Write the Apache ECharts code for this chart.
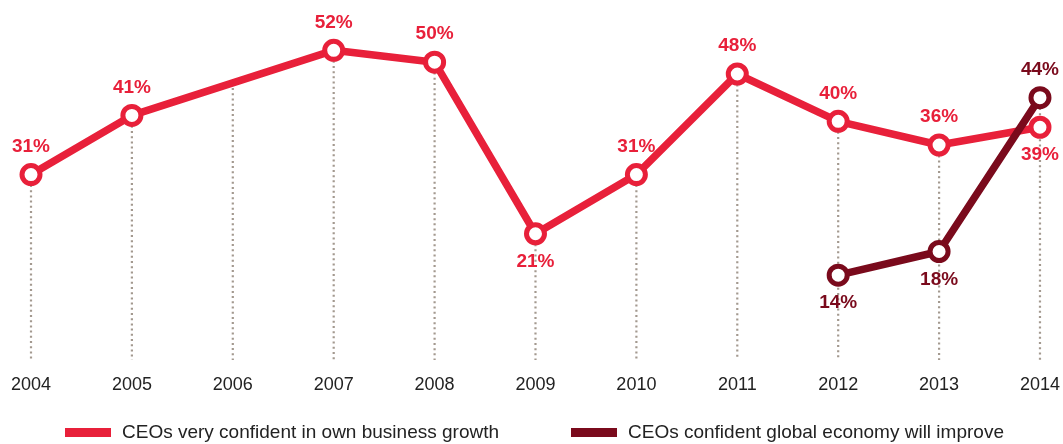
<!DOCTYPE html>
<html><head><meta charset="utf-8">
<script src="https://cdn.jsdelivr.net/npm/echarts@6/dist/echarts.min.js"></script>
<style>html,body{margin:0;padding:0;background:#fff}#c{width:1063px;height:444px}</style>
</head><body><div id="c"></div>
<script>
var years = ['2004','2005','2006','2007','2008','2009','2010','2011','2012','2013','2014'];
var ownGrowth = [31,41,null,52,50,21,31,48,40,36,39];
var globalEconomy = [null,null,null,null,null,null,null,null,14,18,44];
var ownLabelPos = ['top','top','top','top','top','bottom','top','top','top','top','bottom'];
var globalLabelPos = ['top','top','top','top','top','top','top','top','bottom','bottom','top'];
var seriesNames = ['CEOs very confident in own business growth','CEOs confident global economy will improve'];

var RED = '#e8203a', DARK = '#7a0a1c';
var FONT = '"Liberation Sans", Arial, Helvetica, sans-serif';

// tops of the dotted drop lines: highest mark in each year, or the line itself where no mark
var tops = years.map(function(y, i){
  var a = ownGrowth[i], b = globalEconomy[i];
  if (a == null && b == null) {
    var l = i-1; while (l>=0 && ownGrowth[l]==null) l--;
    var r = i+1; while (r<ownGrowth.length && ownGrowth[r]==null) r++;
    return ownGrowth[l] + (ownGrowth[r]-ownGrowth[l])*(i-l)/(r-l);
  }
  return Math.max(a==null?-1:a, b==null?-1:b);
});

function mkData(vals, pos){
  return vals.map(function(v,i){
    return {value: v, label: {position: pos[i]}};
  });
}

var legendText = {fontFamily: FONT, fontSize: 19, color: '#222', padding:[0,0,0,6]};
var chart = echarts.init(document.getElementById('c'));
chart.setOption({
  animation: false,
  grid: {left: 31, right: 23, top: 3, bottom: 86, containLabel: false},
  legend: [
    {data:[{name: seriesNames[0], itemStyle:{color: RED, borderWidth: 0}}], left: 65, top: 423, padding: 0, icon: 'rect',
     itemWidth: 46, itemHeight: 9, textStyle: legendText},
    {data:[{name: seriesNames[1], itemStyle:{color: DARK, borderWidth: 0}}], left: 571, top: 423, padding: 0, icon: 'rect',
     itemWidth: 46, itemHeight: 9, textStyle: legendText}
  ],
  xAxis: {
    type: 'category', data: years, boundaryGap: false,
    axisLine: {show: false}, axisTick: {show: false}, splitLine: {show: false},
    axisLabel: {fontFamily: FONT, fontSize: 18, color: '#222', margin: 18}
  },
  yAxis: {type: 'value', min: 0, max: 60, show: false, splitLine:{show:false}},
  series: [
    {
      type: 'custom', z: 1, silent: true,
      data: tops.map(function(t,i){return [i, t];}),
      renderItem: function(params, api){
        var p1 = api.coord([api.value(0), api.value(1)]);
        var p0 = api.coord([api.value(0), 0]);
        return {type:'line', shape:{x1:p1[0], y1:p1[1], x2:p0[0], y2:p0[1]+2},
          style:{stroke:'#a3998f', lineWidth:2.2, lineDash:[2,3.2]}};
      }
    },
    {
      name: seriesNames[0], type: 'line', z: 3, connectNulls: true,
      data: mkData(ownGrowth, ownLabelPos),
      symbol: 'circle', symbolSize: 18, showSymbol: true,
      lineStyle: {color: RED, width: 7.5},
      itemStyle: {color: '#fff', borderColor: RED, borderWidth: 5},
      label: {show: true, formatter: '{c}%', fontFamily: FONT, fontSize: 19, fontWeight: 'bold', color: RED, distance: 7}
    },
    {
      name: seriesNames[1], type: 'line', z: 4,
      data: mkData(globalEconomy, globalLabelPos),
      symbol: 'circle', symbolSize: 18,
      lineStyle: {color: DARK, width: 7.5},
      itemStyle: {color: '#fff', borderColor: DARK, borderWidth: 5},
      label: {show: true, formatter: '{c}%', fontFamily: FONT, fontSize: 19, fontWeight: 'bold', color: DARK, distance: 7}
    }
  ]
});
</script></body></html>
